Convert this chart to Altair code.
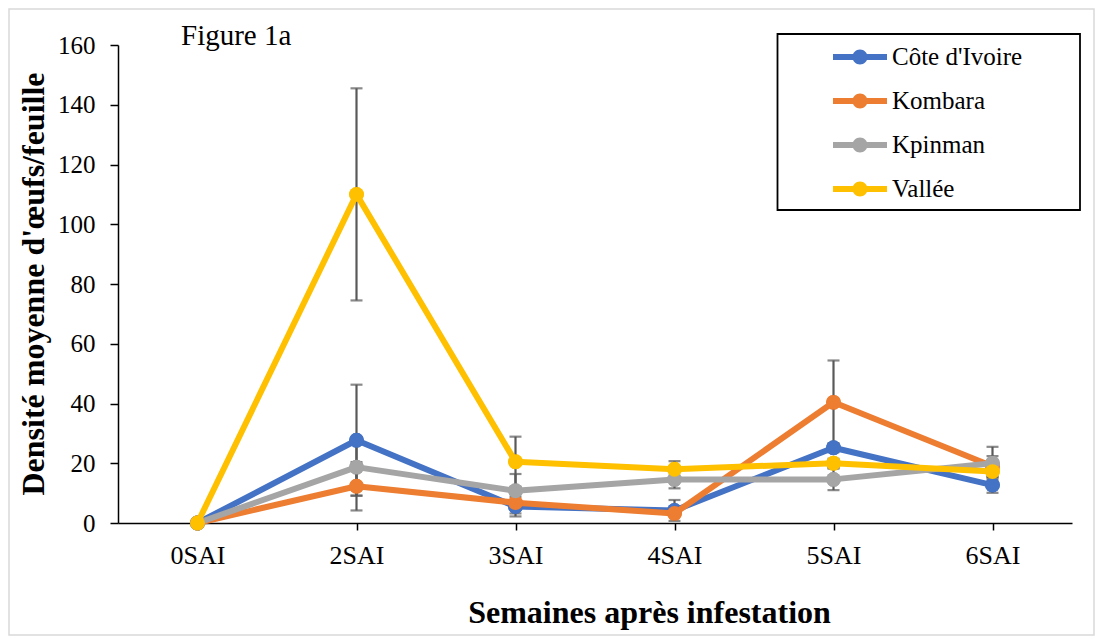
import altair as alt
import pandas as pd

weeks = ["0SAI", "2SAI", "3SAI", "4SAI", "5SAI", "6SAI"]
series = ["Côte d'Ivoire", "Kombara", "Kpinman", "Vallée"]
colors = ["#4472C4", "#ED7D31", "#A5A5A5", "#FFC000"]

cote_ivoire = [0, 27.7, 5.5, 4.2, 25.2, 12.7]
kombara = [0, 12.3, 6.8, 3.2, 40.4, 19.0]
kpinman = [0, 18.7, 10.8, 14.6, 14.6, 20.0]
vallee = [0, 110.0, 20.5, 18.0, 20.0, 17.2]

err_cote_ivoire = [0, 18.6, 3.3, 3.5, 1.5, 2.6]
err_kombara = [0, 8.1, 3.6, 0.5, 14.0, 3.4]
err_kpinman = [0, 9.5, 5.6, 3.0, 3.6, 5.5]
err_vallee = [0, 35.5, 8.4, 2.7, 1.5, 2.0]

means = [cote_ivoire, kombara, kpinman, vallee]
errs = [err_cote_ivoire, err_kombara, err_kpinman, err_vallee]

rows = []
for s, m, e in zip(series, means, errs):
    for w, v, d in zip(weeks, m, e):
        rows.append({"serie": s, "semaine": w, "valeur": v, "err": d,
                     "lo": v - d, "hi": v + d})
df = pd.DataFrame(rows)

FONT = "Liberation Serif"
SYMBOL = ("M-1,-0.111L1,-0.111L1,0.111L-1,0.111Z "
          "M0.278,0A0.278,0.278,0,1,1,-0.278,0A0.278,0.278,0,1,1,0.278,0Z")

x_enc = alt.X(
    "semaine:N", sort=weeks,
    scale=alt.Scale(type="point", padding=0.5),
    axis=alt.Axis(
        title="Semaines après infestation", titleFont=FONT, titleFontSize=32,
        titleFontWeight="bold", titleColor="black", titleX=531, titleY=99,
        titleAlign="center", titleBaseline="alphabetic",
        labelFont=FONT, labelFontSize=26, labelColor="black", labelAngle=0,
        labelPadding=12, tickSize=7, tickColor="black", tickWidth=1.5,
        domainColor="black", domainWidth=1.5, grid=False),
)
y_scale = alt.Scale(domain=[0, 160], nice=False, zero=True)
y_enc = alt.Y(
    "valeur:Q", scale=y_scale,
    axis=alt.Axis(
        title="Densité moyenne d'œufs/feuille", titleFont=FONT, titleFontSize=32,
        titleFontWeight="bold", titleColor="black", titleX=-74.5, titleY=238.5,
        titleAngle=270, titleAlign="center", titleBaseline="alphabetic",
        values=list(range(0, 161, 20)),
        labelFont=FONT, labelFontSize=25, labelColor="black", labelPadding=15,
        tickSize=8, tickColor="black", tickWidth=1.5,
        domainColor="black", domainWidth=1.5, grid=False),
)

legend = alt.Legend(
    title=None, orient="none", legendX=715, legendY=-15, direction="vertical",
    symbolType=SYMBOL, symbolSize=2916, symbolStrokeWidth=0, symbolOpacity=1,
    labelFont=FONT, labelFontSize=25, labelColor="black", labelOffset=5,
    labelLimit=400, rowPadding=4, padding=0, zindex=5,
)
color_scale = alt.Scale(domain=series, range=colors)

base = alt.Chart(df)

# single layer carrying the legend (its points are covered by the series layers)
legend_pts = base.mark_point(filled=True, size=220, opacity=1).encode(
    x=x_enc, y=y_enc,
    color=alt.Color("serie:N", scale=color_scale, legend=legend),
)

err_rule = base.transform_filter("datum.err > 0").mark_rule(
    color="#595959", strokeWidth=2.2
).encode(x=x_enc, y=alt.Y("lo:Q", scale=y_scale), y2="hi:Q")
err_lo = base.transform_filter("datum.err > 0").mark_tick(
    color="#595959", thickness=2.2, size=12
).encode(x=x_enc, y=alt.Y("lo:Q", scale=y_scale))
err_hi = base.transform_filter("datum.err > 0").mark_tick(
    color="#595959", thickness=2.2, size=12
).encode(x=x_enc, y=alt.Y("hi:Q", scale=y_scale))

layers = [legend_pts, err_rule, err_lo, err_hi]
for s, c in zip(series, colors):
    sub = base.transform_filter(alt.datum.serie == s)
    line = sub.mark_line(strokeWidth=6, strokeJoin="round", color=c).encode(
        x=x_enc, y=y_enc,
    )
    pts = sub.mark_point(filled=True, size=220, opacity=1, color=c).encode(
        x=x_enc, y=y_enc,
    )
    layers += [line, pts]

deco = alt.Chart(pd.DataFrame({"k": [0]}))
frame = deco.mark_rect(fillOpacity=0, stroke="#D9D9D9", strokeWidth=1.5).encode(
    x=alt.value(-109), x2=alt.value(976), y=alt.value(-36), y2=alt.value(590))
legend_box = deco.mark_rect(fillOpacity=0, stroke="black", strokeWidth=1.8).encode(
    x=alt.value(659.5), x2=alt.value(962), y=alt.value(-11), y2=alt.value(165))
fig_label = deco.mark_text(
    align="left", baseline="alphabetic", font=FONT, fontSize=29, color="black"
).encode(x=alt.value(63), y=alt.value(0), text=alt.value("Figure 1a"))

chart = alt.layer(frame, *layers, legend_box, fig_label).properties(
    width=954, height=478,
    padding={"left": 110, "top": 37, "right": 23, "bottom": 113},
    autosize=alt.AutoSizeParams(type="none"),
    background="white",
).configure(
    font=FONT,
).configure_view(stroke=None).configure_legend(
    labelFont=FONT, labelFontSize=25, labelColor="black", rowPadding=4,
)

chart.save("out.html", embed_options={"renderer": "svg", "actions": False})
